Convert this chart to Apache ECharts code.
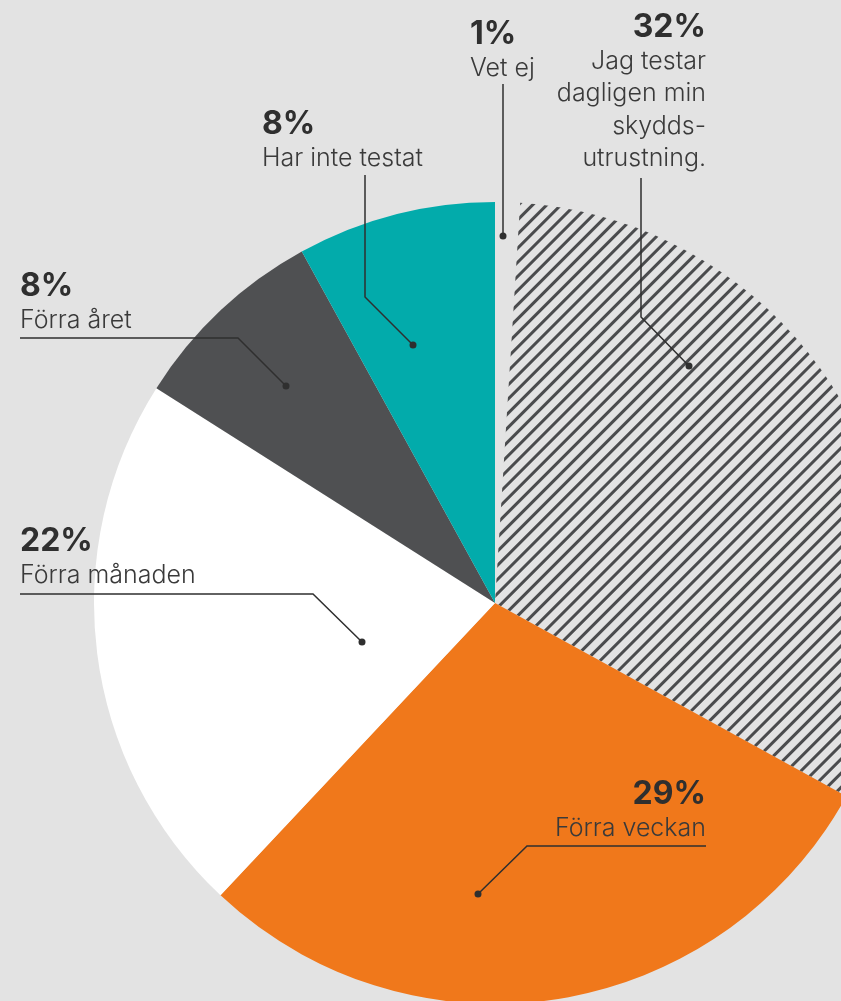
<!DOCTYPE html>
<html>
<head>
<meta charset="utf-8">
<script src="https://cdn.jsdelivr.net/npm/echarts@6/dist/echarts.min.js"></script>
<style>
html, body { margin: 0; padding: 0; background: #e3e3e3; }
#pie { width: 841px; height: 1001px; }
</style>
</head>
<body>
<div id="pie"></div>
<script>
var names = ['Vet ej', 'Jag testar\ndagligen min\nskydds-\nutrustning.', 'Förra veckan', 'Förra månaden', 'Förra året', 'Har inte testat'];
var shares = [1, 32, 29, 22, 8, 8];
var fills = ['#e3e3e3', '#e3e3e3', '#f0781b', '#ffffff', '#4f5052', '#02abab'];

// text block per slice: [x, top, align]
var textSpots = [[470, 16, 'left'], [706, 9, 'right'], [706, 776, 'right'], [20, 523, 'left'], [20, 268, 'left'], [262, 106, 'left']];
// leader lines, the last point gets the dot
var leaders = [
    [[503, 84], [503, 236]],
    [[641, 178], [641, 317], [689, 366]],
    [[706, 846], [527, 846], [478, 894]],
    [[20, 594], [313, 594], [362, 642]],
    [[20, 338], [238, 338], [286, 386]],
    [[365, 175], [365, 297], [413, 345]]
];

var font = 'Inter, Roboto, sans-serif';
var ink = '#2f2f2f';

var hatch = {
    symbol: 'rect',
    symbolSize: 1,
    color: '#4a4b4d',
    dashArrayX: [1, 0],
    dashArrayY: [3, 7],
    rotation: -Math.PI / 4
};

var graphics = [];
leaders.forEach(function (pts) {
    graphics.push({
        type: 'polyline',
        z: 100,
        shape: { points: pts },
        style: { stroke: ink, lineWidth: 1.5, fill: null }
    });
    var end = pts[pts.length - 1];
    graphics.push({
        type: 'circle',
        z: 100,
        shape: { cx: end[0], cy: end[1], r: 3.5 },
        style: { fill: ink }
    });
});

var chart = echarts.init(document.getElementById('pie'));
chart.setOption({
    backgroundColor: '#e3e3e3',
    animation: false,
    graphic: graphics,
    series: [{
        type: 'pie',
        center: [495, 603],
        radius: 401,
        startAngle: 90,
        clockwise: true,
        avoidLabelOverlap: false,
        emphasis: { disabled: true },
        itemStyle: { borderWidth: 0 },
        labelLine: { show: false },
        label: {
            show: true,
            position: 'outside',
            fontFamily: font,
            formatter: function (p) {
                return '{p|' + p.value + '%}\n{n|' + p.name + '}';
            },
            rich: {
                p: { fontFamily: font, fontSize: 32, fontWeight: 'bold', lineHeight: 36, color: ink },
                n: { fontFamily: font, fontSize: 25, fontWeight: 300, lineHeight: 32.5, color: '#3a3a3a' }
            }
        },
        labelLayout: function (params) {
            var s = textSpots[params.dataIndex];
            return { x: s[0], y: s[1], align: s[2], verticalAlign: 'top' };
        },
        data: names.map(function (n, i) {
            var item = {
                name: n,
                value: shares[i],
                itemStyle: { color: fills[i] },
                label: { align: textSpots[i][2] }
            };
            if (i === 1) item.itemStyle.decal = hatch;
            return item;
        })
    }]
});
</script>
</body>
</html>
